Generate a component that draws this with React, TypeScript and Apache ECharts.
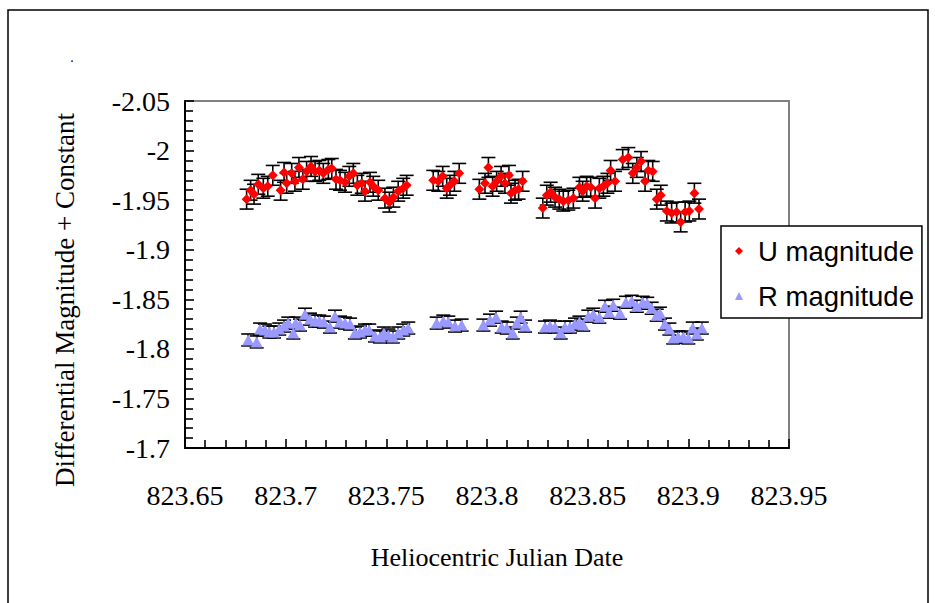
import React, { useEffect, useRef } from "react";
import * as echarts from "echarts";

// ---------- data ----------
const X_TICKS_MIN = 823.65;
const X_TICKS_MAX = 823.95;
const Y_MIN = -2.05;
const Y_MAX = -1.7;

const uTime = [
  823.6806, 823.6826, 823.6843, 823.6864, 823.6889, 823.6911, 823.6936, 823.6975, 823.6992, 823.7005,
  823.703, 823.7046, 823.7066, 823.7085, 823.7104, 823.7126, 823.7146, 823.7167, 823.7187, 823.7212,
  823.7229, 823.725, 823.727, 823.7295, 823.7316, 823.7336, 823.7356, 823.7378, 823.7394, 823.7419,
  823.7435, 823.746, 823.7493, 823.7515, 823.7535, 823.7559, 823.7584, 823.7601,
  823.7733, 823.7758, 823.778, 823.78, 823.7816, 823.7838, 823.7862,
  823.7962, 823.799, 823.8007, 823.8028, 823.8048, 823.807, 823.8089, 823.8109, 823.8119, 823.8139,
  823.8157, 823.8177,
  823.8277, 823.8297, 823.8316, 823.8338, 823.8359, 823.8379, 823.8404, 823.8429, 823.8459, 823.8475,
  823.8495, 823.8515, 823.8537, 823.8558, 823.8578, 823.8598, 823.8614, 823.8636, 823.8674, 823.8702,
  823.8724, 823.8744, 823.8765, 823.8785, 823.8801, 823.8823, 823.8843, 823.8863, 823.8893, 823.8917,
  823.8942, 823.8962, 823.8984, 823.9005, 823.903, 823.9053,
];
const uMag = [
  -1.951, -1.960, -1.956, -1.966, -1.962, -1.964, -1.975, -1.960, -1.978, -1.967,
  -1.977, -1.969, -1.983, -1.971, -1.979, -1.984, -1.979, -1.980, -1.977, -1.981,
  -1.982, -1.971, -1.970, -1.968, -1.974, -1.977, -1.965, -1.967, -1.959, -1.968,
  -1.964, -1.960, -1.952, -1.948, -1.953, -1.959, -1.962, -1.965,
  -1.970, -1.969, -1.974, -1.962, -1.965, -1.969, -1.977,
  -1.961, -1.967, -1.983, -1.964, -1.969, -1.974, -1.967, -1.975, -1.957, -1.960,
  -1.961, -1.969,
  -1.942, -1.955, -1.958, -1.953, -1.951, -1.949, -1.950, -1.952, -1.963, -1.959,
  -1.964, -1.963, -1.952, -1.962, -1.964, -1.967, -1.980, -1.969, -1.991, -1.993,
  -1.977, -1.983, -1.989, -1.969, -1.980, -1.979, -1.951, -1.955, -1.939, -1.937,
  -1.938, -1.928, -1.938, -1.939, -1.957, -1.941,
];
const U_ERR = 0.01;

const rTime = [
  823.6814, 823.6856, 823.6873, 823.6897, 823.6919, 823.6942, 823.6968, 823.6992, 823.7013, 823.7038,
  823.705, 823.7071, 823.7096, 823.7121, 823.7146, 823.7167, 823.719, 823.722, 823.7245, 823.727,
  823.7295, 823.732, 823.7344, 823.7369, 823.7394, 823.7415, 823.7444, 823.7469, 823.7488, 823.751,
  823.7532, 823.7559, 823.7584, 823.7609,
  823.775, 823.7783, 823.7808, 823.7841, 823.7874,
  823.7982, 823.8015, 823.8045, 823.8073, 823.8098, 823.8128, 823.8148, 823.8167, 823.8189,
  823.8288, 823.8313, 823.8338, 823.8366, 823.8387, 823.8412, 823.8437, 823.8459, 823.8478, 823.8503,
  823.8528, 823.8558, 823.8586, 823.8607, 823.8627, 823.8661, 823.869, 823.8719, 823.8744, 823.8773,
  823.8796, 823.8818, 823.8843, 823.8859, 823.8884, 823.8906, 823.8925, 823.895, 823.8975, 823.9,
  823.9022, 823.9042, 823.9067,
];
const rMag = [
  -1.809, -1.807, -1.820, -1.819, -1.817, -1.817, -1.820, -1.823, -1.826, -1.816,
  -1.826, -1.824, -1.835, -1.830, -1.828, -1.828, -1.827, -1.822, -1.833, -1.827,
  -1.826, -1.825, -1.816, -1.817, -1.819, -1.819, -1.813, -1.812, -1.816, -1.814,
  -1.812, -1.816, -1.819, -1.821,
  -1.826, -1.828, -1.827, -1.823, -1.824,
  -1.824, -1.829, -1.832, -1.822, -1.821, -1.816, -1.826, -1.832, -1.823,
  -1.822, -1.823, -1.822, -1.816, -1.822, -1.822, -1.825, -1.827, -1.824, -1.833,
  -1.835, -1.832, -1.843, -1.837, -1.844, -1.836, -1.847, -1.848, -1.843, -1.847,
  -1.846, -1.841, -1.834, -1.836, -1.825, -1.820, -1.811, -1.812, -1.812, -1.811,
  -1.821, -1.815, -1.821,
];
const R_ERR = 0.006;

const X_TITLE = "Heliocentric Julian Date";
const Y_TITLE = "Differential Magnitude + Constant";
const U_NAME = "U magnitude";
const R_NAME = "R magnitude";

const SERIF = "'Liberation Serif', 'Times New Roman', serif";
const SANS = "'Liberation Sans', Arial, sans-serif";

function errorBarRender(capHalf: number) {
  return (params: any, api: any) => {
    const x = api.value(0);
    const y = api.value(1);
    const e = api.value(2);
    const top = api.coord([x, y - e]);
    const bot = api.coord([x, y + e]);
    const style = { stroke: "#000", lineWidth: 1.6 };
    return {
      type: "group",
      children: [
        { type: "line", shape: { x1: top[0], y1: top[1], x2: bot[0], y2: bot[1] }, style },
        { type: "line", shape: { x1: top[0] - capHalf, y1: top[1], x2: top[0] + capHalf, y2: top[1] }, style },
        { type: "line", shape: { x1: bot[0] - capHalf, y1: bot[1], x2: bot[0] + capHalf, y2: bot[1] }, style },
      ],
    };
  };
}

export default function App() {
  const ref = useRef<HTMLDivElement>(null);
  useEffect(() => {
    if (!ref.current) return;
    const chart = echarts.init(ref.current, null, { renderer: "svg" });
    const uData = uTime.map((t, i) => [t, uMag[i]]);
    const rData = rTime.map((t, i) => [t, rMag[i]]);
    const uErr = uTime.map((t, i) => [t, uMag[i], U_ERR]);
    const rErr = rTime.map((t, i) => [t, rMag[i], R_ERR]);
    const tickStyle = { color: "#000", width: 1.6 };
    chart.setOption({
      animation: false,
      backgroundColor: "#fff",
      grid: {
        left: 185,
        top: 101,
        right: 146,
        bottom: 155,
        show: true,
        borderColor: "#808080",
        borderWidth: 2,
        backgroundColor: "transparent",
      },
      xAxis: {
        type: "value",
        min: X_TICKS_MIN,
        max: X_TICKS_MAX,
        interval: 0.05,
        splitLine: { show: false },
        axisLine: { show: true, onZero: false, lineStyle: { color: "#000", width: 2 } },
        axisTick: { show: true, inside: true, length: 9, lineStyle: tickStyle },
        minorTick: { show: true, splitNumber: 5, length: 8, lineStyle: tickStyle },
        axisLabel: { color: "#000", fontFamily: SERIF, fontSize: 28, margin: 33 },
      },
      yAxis: {
        type: "value",
        inverse: true,
        min: Y_MIN,
        max: Y_MAX,
        interval: 0.05,
        splitLine: { show: false },
        axisLine: { show: true, onZero: false, lineStyle: { color: "#000", width: 2 } },
        axisTick: { show: true, inside: true, length: 9, lineStyle: tickStyle },
        minorTick: { show: true, splitNumber: 5, length: 8, lineStyle: tickStyle },
        axisLabel: { color: "#000", fontFamily: SERIF, fontSize: 28, margin: 15 },
      },
      legend: {
        orient: "vertical",
        left: 721,
        top: 226,
        data: [
          { name: U_NAME, icon: "diamond" },
          { name: R_NAME, icon: "triangle" },
        ],
        backgroundColor: "#fff",
        borderColor: "#000",
        borderWidth: 1.5,
        borderRadius: 0,
        padding: [11, 8, 8, 14],
        itemWidth: 8,
        itemHeight: 8,
        itemGap: 17,
        lineStyle: { opacity: 0, width: 0 },
        textStyle: {
          color: "#000",
          fontFamily: SANS,
          fontSize: 27.5,
          lineHeight: 26,
          padding: [0, 0, 0, 10],
        },
      },
      graphic: [
        {
          type: "rect",
          shape: { x: 8, y: 10, width: 920, height: 640 },
          style: { fill: "none", stroke: "#000", lineWidth: 1.5 },
          silent: true,
          z: -10,
        },
        {
          type: "text",
          x: 72,
          y: 50,
          style: { text: ".", fill: "#000", font: `14px ${SERIF}`, align: "center" },
        },
        {
          type: "text",
          x: 497,
          y: 557,
          style: { text: X_TITLE, fill: "#000", font: `26px ${SERIF}`, align: "center", verticalAlign: "middle" },
        },
        {
          type: "text",
          x: 65,
          y: 300,
          rotation: Math.PI / 2,
          style: { text: Y_TITLE, fill: "#000", font: `27px ${SERIF}`, align: "center", verticalAlign: "middle" },
        },
      ],
      series: [
        {
          type: "custom",
          name: "U err",
          data: uErr,
          encode: { x: 0, y: 1 },
          renderItem: errorBarRender(7),
          z: 1,
          silent: true,
        },
        {
          type: "custom",
          name: "R err",
          data: rErr,
          encode: { x: 0, y: 1 },
          renderItem: errorBarRender(7),
          z: 1,
          silent: true,
        },
        {
          type: "scatter",
          name: U_NAME,
          data: uData,
          symbol: "diamond",
          symbolSize: 10,
          itemStyle: { color: "#FF0000", opacity: 1 },
          z: 3,
        },
        {
          type: "scatter",
          name: R_NAME,
          data: rData,
          symbol: "triangle",
          symbolSize: [12, 11],
          itemStyle: { color: "#9999FF", opacity: 1 },
          z: 3,
        },
      ],
    });
    return () => chart.dispose();
  }, []);
  return (
    <div
      ref={ref}
      style={{ position: "fixed", left: 0, top: 0, width: 935, height: 603, background: "#fff" }}
    />
  );
}
